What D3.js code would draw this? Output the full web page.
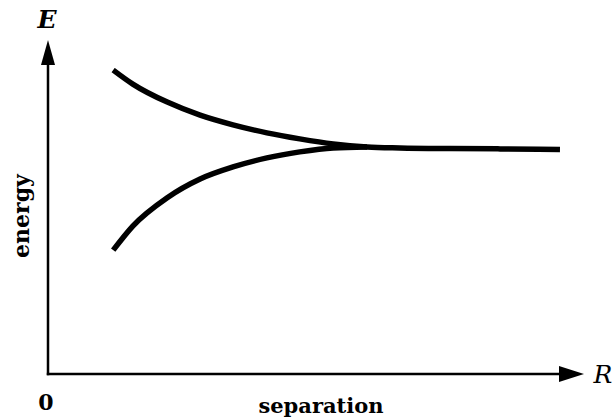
<!DOCTYPE html>
<html>
<head>
<meta charset="utf-8">
<script src="https://cdn.jsdelivr.net/npm/d3@7"></script>
<style>
  body { margin: 0; background: #fff; }
  text { font-family: "DejaVu Serif", "Liberation Serif", serif; fill: #000; }
</style>
</head>
<body>
<svg id="chart"></svg>
<script>
// separation R (arbitrary units) and energy E
const upperR = [1.23, 1.6, 2.25, 2.87, 3.49, 4.13, 4.75, 5.38, 6.02, 6.64, 7.58, 8.53, 9.66];
const upperE = [9.10, 8.68, 8.14, 7.75, 7.46, 7.22, 7.04, 6.89, 6.80, 6.77, 6.75, 6.74, 6.72];
const lowerR = [1.23, 1.6, 2.25, 2.87, 3.49, 4.13, 4.75, 5.38, 6.02];
const lowerE = [3.71, 4.43, 5.28, 5.84, 6.20, 6.47, 6.65, 6.77, 6.80];

const width = 613, height = 418;
const svg = d3.select('#chart').attr('width', width).attr('height', height);

const x = d3.scaleLinear().domain([0, 10]).range([48, 578]);
const y = d3.scaleLinear().domain([0, 10]).range([374, 40]);

// axes with arrow heads
const axisColor = '#000';
svg.append('line')
    .attr('x1', x(0)).attr('y1', y(0) + 1.2)
    .attr('x2', x(0)).attr('y2', 62)
    .attr('stroke', axisColor).attr('stroke-width', 2.5);
svg.append('line')
    .attr('x1', x(0) - 1.2).attr('y1', y(0))
    .attr('x2', 562).attr('y2', y(0))
    .attr('stroke', axisColor).attr('stroke-width', 2.5);

svg.append('path')
    .attr('d', `M${x(0)},${40} L${x(0) - 7},${65} L${x(0) + 7},${65} Z`)
    .attr('fill', axisColor);
svg.append('path')
    .attr('d', `M${584},${y(0)} L${559},${y(0) - 8} L${559},${y(0) + 8} Z`)
    .attr('fill', axisColor);

const line = d3.line()
    .x(d => x(d[0]))
    .y(d => y(d[1]))
    .curve(d3.curveMonotoneX);

svg.append('path')
    .datum(d3.zip(upperR, upperE))
    .attr('d', line)
    .attr('fill', 'none')
    .attr('stroke', '#000')
    .attr('stroke-width', 5.5);

svg.append('path')
    .datum(d3.zip(lowerR, lowerE))
    .attr('d', line)
    .attr('fill', 'none')
    .attr('stroke', '#000')
    .attr('stroke-width', 5.5);

// labels
svg.append('text')
    .attr('x', 47).attr('y', 28)
    .attr('text-anchor', 'middle')
    .style('font-size', '25px').style('font-weight', 'bold').style('font-style', 'italic')
    .text('E');
svg.append('text')
    .attr('x', 603).attr('y', 383)
    .attr('text-anchor', 'middle')
    .style('font-size', '25px').style('font-style', 'italic')
    .text('R');
svg.append('text')
    .attr('x', 46).attr('y', 410)
    .attr('text-anchor', 'middle')
    .style('font-size', '22px').style('font-weight', 'bold')
    .text('0');
svg.append('text')
    .attr('x', 321).attr('y', 413)
    .attr('text-anchor', 'middle')
    .style('font-size', '21px').style('font-weight', 'bold')
    .text('separation');
svg.append('text')
    .attr('transform', 'translate(29,216) rotate(-90)')
    .attr('text-anchor', 'middle')
    .style('font-size', '22px').style('font-weight', 'bold')
    .text('energy');
</script>
</body>
</html>
